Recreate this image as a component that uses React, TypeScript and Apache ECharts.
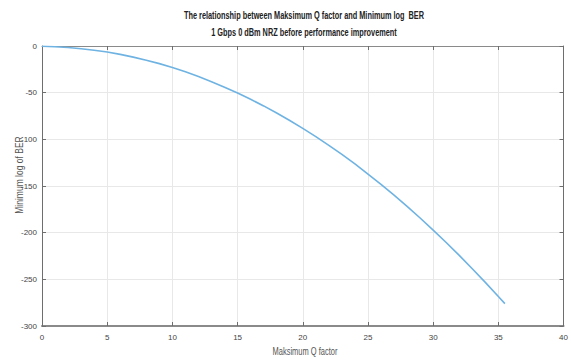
import React, { useEffect, useRef } from "react";
import * as echarts from "echarts";

const qFactor = [0, 1, 2, 3, 4, 5, 6, 7, 8, 9, 10, 11, 12, 13, 14, 15, 16, 17, 18, 19, 20, 21, 22, 23, 24, 25, 26, 27, 28, 29, 30, 31, 32, 33, 34, 35, 35.5];
const minLogBer = [-0.3, -0.8, -1.6, -2.9, -4.5, -6.5, -9.0, -11.9, -15.2, -18.9, -23.1, -27.7, -32.8, -38.2, -44.1, -50.4, -57.1, -64.2, -71.8, -79.8, -88.3, -97.1, -106.4, -116.2, -126.4, -137.3, -148.2, -159.8, -171.8, -184.3, -197.2, -210.5, -224.3, -238.6, -253.3, -268.4, -276.0];

const xTicks = { min: 0, max: 40, interval: 5 };
const yTicks = { min: -300, max: 0, interval: 50 };

const titleLines = [
  "The relationship between Maksimum Q factor and Minimum log  BER",
  "1 Gbps 0 dBm NRZ before performance improvement",
];
const xName = "Maksimum Q factor";
const yName = "Minimum log of BER";

export default function App() {
  const ref = useRef<HTMLDivElement>(null);
  useEffect(() => {
    if (!ref.current) return;
    const chart = echarts.init(ref.current, null, { renderer: "svg" });
    const font = "'Liberation Sans', Arial, sans-serif";
    const axisColor = "#6e6e6e";
    const tickLabel = { color: "#444", fontSize: 8, fontFamily: font };
    const data = qFactor.map((q, i) => [q, minLogBer[i]]);
    chart.setOption({
      animation: false,
      backgroundColor: "#fff",
      grid: { left: 42, right: 3, top: 46, bottom: 34, show: false },
      xAxis: [
        {
          type: "value", ...xTicks, position: "bottom",
          axisLine: { show: true, onZero: false, lineStyle: { color: "#8a8a8a", width: 2 } },
          axisTick: { show: true, inside: true, length: 4, lineStyle: { color: axisColor } },
          axisLabel: { ...tickLabel, margin: 7 },
          splitLine: { show: true, lineStyle: { color: "#e8e8e8", width: 1 } },
        },
        {
          type: "value", ...xTicks, position: "top",
          axisLine: { show: true, onZero: false, lineStyle: { color: "#8a8a8a", width: 1 } },
          axisTick: { show: true, inside: true, length: 4, lineStyle: { color: axisColor } },
          axisLabel: { show: false },
          splitLine: { show: false },
        },
      ],
      yAxis: [
        {
          type: "value", ...yTicks, position: "left",
          axisLine: { show: true, onZero: false, lineStyle: { color: axisColor, width: 1 } },
          axisTick: { show: true, inside: true, length: 4, lineStyle: { color: axisColor } },
          axisLabel: { ...tickLabel, margin: 5 },
          splitLine: { show: true, lineStyle: { color: "#e8e8e8", width: 1 } },
        },
        {
          type: "value", ...yTicks, position: "right",
          axisLine: { show: true, onZero: false, lineStyle: { color: axisColor, width: 1 } },
          axisTick: { show: true, inside: true, length: 4, lineStyle: { color: axisColor } },
          axisLabel: { show: false },
          splitLine: { show: false },
        },
      ],
      graphic: [
        {
          type: "text", x: 304, y: 16, scaleX: 0.7,
          style: { text: titleLines[0], fill: "#222", font: `bold 10.5px ${font}`, textAlign: "center", textVerticalAlign: "middle" },
        },
        {
          type: "text", x: 304, y: 33, scaleX: 0.7,
          style: { text: titleLines[1], fill: "#222", font: `bold 10.5px ${font}`, textAlign: "center", textVerticalAlign: "middle" },
        },
        {
          type: "text", x: 305, y: 352, scaleX: 0.75,
          style: { text: xName, fill: "#555", font: `10px ${font}`, textAlign: "center", textVerticalAlign: "middle" },
        },
        {
          type: "text", x: 19, y: 175, rotation: Math.PI / 2, scaleX: 0.85, scaleY: 1.12,
          style: { text: yName, fill: "#555", font: `10px ${font}`, textAlign: "center", textVerticalAlign: "middle" },
        },
      ],
      series: [
        {
          type: "line",
          data,
          xAxisIndex: 0,
          yAxisIndex: 0,
          showSymbol: false,
          smooth: false,
          lineStyle: { color: "#6fb3e3", width: 1.6 },
        },
      ],
    });
    return () => chart.dispose();
  }, []);
  return <div ref={ref} style={{ position: "fixed", left: 0, top: 0, width: 571, height: 360 }} />;
}
